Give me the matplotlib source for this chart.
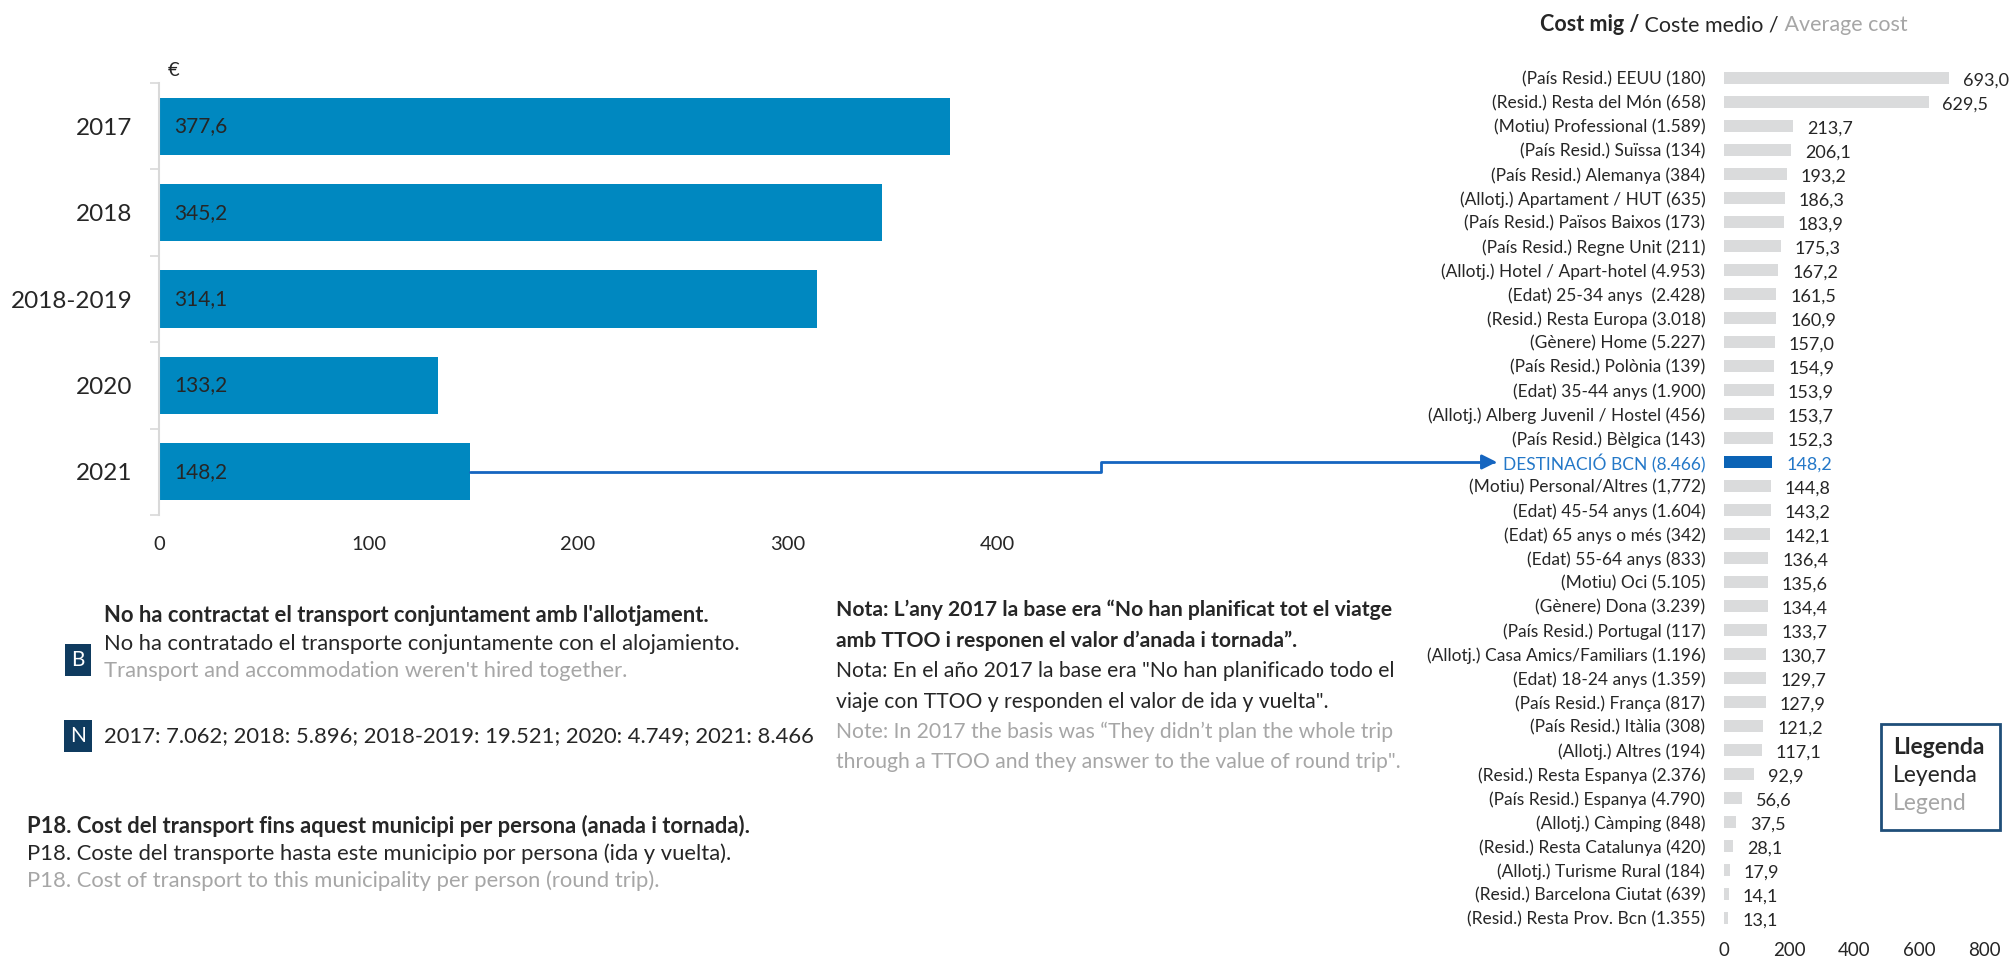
import matplotlib
matplotlib.use('Agg')
import matplotlib.pyplot as plt
from matplotlib.patches import FancyArrowPatch, Rectangle
from matplotlib.path import Path

plt.rcParams['font.family'] = ['Lato', 'DejaVu Sans']

W, H = 2010, 960
DARK = '#262626'
GREY = '#a6a6a6'
BLUE_BAR = '#0088c0'
HL_BLUE = '#0b63b5'
HL_TEXT = '#2478c8'

# left chart: average cost per year
years = ['2017', '2018', '2018-2019', '2020', '2021']
year_cost = [377.6, 345.2, 314.1, 133.2, 148.2]

# right chart: average cost by profile (2021)
profiles = [
    '(País Resid.) EEUU (180)', '(Resid.) Resta del Món (658)', '(Motiu) Professional (1.589)',
    '(País Resid.) Suïssa (134)', '(País Resid.) Alemanya (384)', '(Allotj.) Apartament / HUT (635)',
    '(País Resid.) Països Baixos (173)', '(País Resid.) Regne Unit (211)',
    '(Allotj.) Hotel / Apart-hotel (4.953)', '(Edat) 25-34 anys  (2.428)',
    '(Resid.) Resta Europa (3.018)', '(Gènere) Home (5.227)', '(País Resid.) Polònia (139)',
    '(Edat) 35-44 anys (1.900)', '(Allotj.) Alberg Juvenil / Hostel (456)',
    '(País Resid.) Bèlgica (143)', 'DESTINACIÓ BCN (8.466)', '(Motiu) Personal/Altres (1,772)',
    '(Edat) 45-54 anys (1.604)', '(Edat) 65 anys o més (342)', '(Edat) 55-64 anys (833)',
    '(Motiu) Oci (5.105)', '(Gènere) Dona (3.239)', '(País Resid.) Portugal (117)',
    '(Allotj.) Casa Amics/Familiars (1.196)', '(Edat) 18-24 anys (1.359)',
    '(País Resid.) França (817)', '(País Resid.) Itàlia (308)', '(Allotj.) Altres (194)',
    '(Resid.) Resta Espanya (2.376)', '(País Resid.) Espanya (4.790)', '(Allotj.) Càmping (848)',
    '(Resid.) Resta Catalunya (420)', '(Allotj.) Turisme Rural (184)',
    '(Resid.) Barcelona Ciutat (639)', '(Resid.) Resta Prov. Bcn (1.355)',
]
profile_cost = [
    693.0, 629.5, 213.7, 206.1, 193.2, 186.3, 183.9, 175.3, 167.2, 161.5, 160.9, 157.0,
    154.9, 153.9, 153.7, 152.3, 148.2, 144.8, 143.2, 142.1, 136.4, 135.6, 134.4, 133.7,
    130.7, 129.7, 127.9, 121.2, 117.1, 92.9, 56.6, 37.5, 28.1, 17.9, 14.1, 13.1,
]
highlight = 'DESTINACIÓ BCN (8.466)'

left_ticks = [0, 100, 200, 300, 400]
right_ticks = [0, 200, 400, 600, 800]


def fmt(v):
    return f'{v:.1f}'.replace('.', ',')


def fx(px):
    return px / W


def fy(py):
    return 1 - py / H


fig = plt.figure(figsize=(W / 100, H / 100), dpi=100)

# ---- left bar chart
ax1 = fig.add_axes([fx(159), fy(515), 943 / W, 432 / H])
pos = list(range(len(years)))
ax1.barh(pos, year_cost, height=0.66, color=BLUE_BAR)
ax1.set_xlim(0, 450)
ax1.set_ylim(len(years) - 0.5, -0.5)
ax1.set_yticks(pos)
ax1.set_yticklabels(years, fontsize=17.5, color=DARK)
ax1.set_yticks([p - 0.5 for p in pos] + [pos[-1] + 0.5], minor=True)
ax1.tick_params(axis='y', which='major', length=0, pad=19)
ax1.tick_params(axis='y', which='minor', length=6.5, width=1.2, color='#d9d9d9')
ax1.set_xticks(left_ticks)
ax1.tick_params(axis='x', length=0, pad=15, labelsize=14.5, labelcolor=DARK)
for s in ['top', 'right', 'bottom']:
    ax1.spines[s].set_visible(False)
ax1.spines['left'].set_color('#d9d9d9')
ax1.spines['left'].set_linewidth(1.5)
for p, v in zip(pos, year_cost):
    ax1.annotate(fmt(v), (0, p), xytext=(11, 0), textcoords='offset points',
                 ha='left', va='center', fontsize=15, color=DARK)
fig.text(fx(168), fy(71), '€', fontsize=14.5, color=DARK, va='center')

# ---- right bar chart
ax2 = fig.add_axes([fx(1724), fy(930), 260 / W, 864 / H])
rpos = list(range(len(profiles)))
hi = profiles.index(highlight)
colors = [HL_BLUE if p == highlight else '#dadbdc' for p in profiles]
ax2.barh(rpos, profile_cost, height=0.52, color=colors)
ax2.set_xlim(0, 800)
ax2.set_ylim(len(profiles) - 0.5, -0.5)
ax2.set_yticks(rpos)
ax2.set_yticklabels(profiles, fontsize=12.5, color=DARK)
ax2.get_yticklabels()[hi].set_color(HL_TEXT)
ax2.tick_params(axis='y', length=0, pad=13.5)
ax2.set_xticks(right_ticks)
ax2.tick_params(axis='x', length=0, pad=9, labelsize=13.5, labelcolor=DARK)
for s in ax2.spines.values():
    s.set_visible(False)
for p, v in zip(rpos, profile_cost):
    ax2.annotate(fmt(v), (v, p), xytext=(10, -2), textcoords='offset points',
                 ha='left', va='center', fontsize=13,
                 color=HL_TEXT if p == hi else DARK)

# ---- title with three styles
TS = 15.5
t1 = fig.text(fx(1540), fy(31), 'Cost mig /', fontsize=TS, weight='bold',
              color=DARK, va='baseline')
fig.canvas.draw()
r = fig.canvas.get_renderer()
inv = fig.transFigure.inverted()
x_next = t1.get_window_extent(r).x1
t2 = fig.text(inv.transform((x_next, 0))[0], fy(31), ' Coste medio /', fontsize=TS,
              color=DARK, va='baseline')
x_next = t2.get_window_extent(r).x1
fig.text(inv.transform((x_next, 0))[0], fy(31), ' Average cost', fontsize=TS,
         color=GREY, va='baseline')

# ---- connector from 2021 bar to DESTINACIÓ row
start = ax1.transData.transform((year_cost[-1], pos[-1]))
lab_bb = ax2.get_yticklabels()[hi].get_window_extent(r)
end_y = ax2.transData.transform((0, hi))[1]
end = (lab_bb.x0 - 6, end_y)
mid_x = start[0] + 0.615 * (end[0] - start[0])
verts = [start, (mid_x, start[1]), (mid_x, end_y), end]
verts = [tuple(inv.transform(v)) for v in verts]
arrow = FancyArrowPatch(path=Path(verts), arrowstyle='-|>', mutation_scale=22,
                        color='#1565c0', lw=2, transform=fig.transFigure)
fig.add_artist(arrow)

# ---- base / sample notes
FS = 15.8
badge = dict(boxstyle='square,pad=0.28', fc='#0f3b5f', ec='none')
fig.text(fx(78), fy(660), 'B', fontsize=15, color='white', ha='center', va='center', bbox=badge)
fig.text(fx(78), fy(736), 'N', fontsize=15, color='white', ha='center', va='center', bbox=badge)
fig.text(fx(104), fy(615), "No ha contractat el transport conjuntament amb l'allotjament.",
         fontsize=FS, weight='bold', color=DARK, va='center')
fig.text(fx(104), fy(644), 'No ha contratado el transporte conjuntamente con el alojamiento.',
         fontsize=FS, color=DARK, va='center')
fig.text(fx(104), fy(671), "Transport and accommodation weren't hired together.",
         fontsize=FS, color=GREY, va='center')
fig.text(fx(104), fy(736), '2017: 7.062; 2018: 5.896; 2018-2019: 19.521; 2020: 4.749; 2021: 8.466',
         fontsize=FS, color=DARK, va='center')

fig.text(fx(27), fy(826), 'P18. Cost del transport fins aquest municipi per persona (anada i tornada).',
         fontsize=FS, weight='bold', color=DARK, va='center')
fig.text(fx(27), fy(854), 'P18. Coste del transporte hasta este municipio por persona (ida y vuelta).',
         fontsize=FS, color=DARK, va='center')
fig.text(fx(27), fy(881), 'P18. Cost of transport to this municipality per person (round trip).',
         fontsize=FS, color=GREY, va='center')

note_lines = [
    ('Nota: L’any 2017 la base era “No han planificat tot el viatge', 'bold', DARK),
    ('amb TTOO i responen el valor d’anada i tornada”.', 'bold', DARK),
    ('Nota: En el año 2017 la base era "No han planificado todo el', 'normal', DARK),
    ('viaje con TTOO y responden el valor de ida y vuelta".', 'normal', DARK),
    ('Note: In 2017 the basis was “They didn’t plan the whole trip', 'normal', GREY),
    ('through a TTOO and they answer to the value of round trip".', 'normal', GREY),
]
for k, (txt, wt, col) in enumerate(note_lines):
    fig.text(fx(836), fy(610 + 30.5 * k), txt, fontsize=15.2, weight=wt, color=col, va='center')

# ---- legend box
fig.add_artist(Rectangle((fx(1881), fy(830)), 119 / W, 106 / H, transform=fig.transFigure,
                         fill=False, ec='#1f4e79', lw=2))
fig.text(fx(1893), fy(747), 'Llegenda', fontsize=16.5, weight='bold', color=DARK, va='center')
fig.text(fx(1893), fy(776), 'Leyenda', fontsize=16.5, color=DARK, va='center')
fig.text(fx(1893), fy(804), 'Legend', fontsize=16.5, color=GREY, va='center')

fig.savefig('out.png', dpi=100)
